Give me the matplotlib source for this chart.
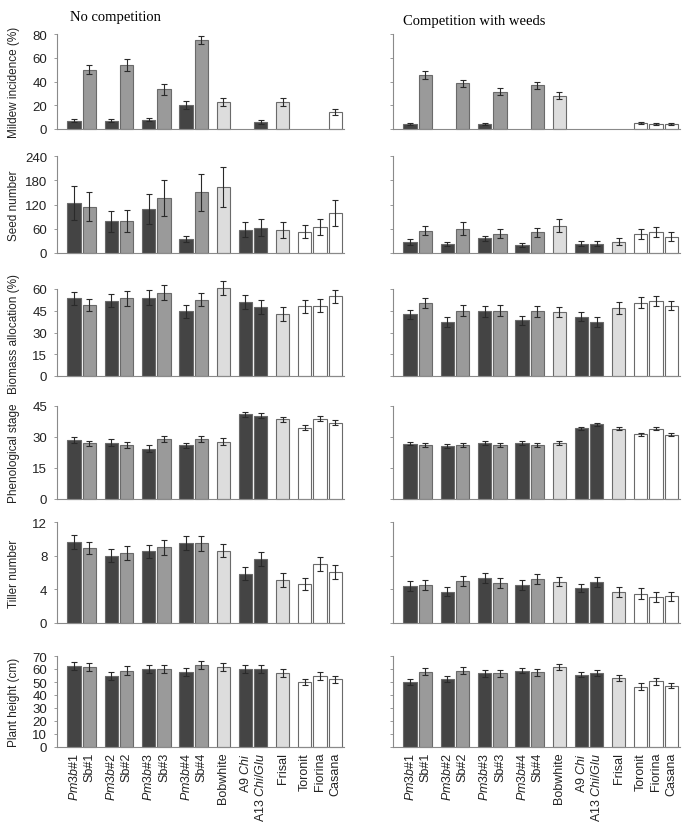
import matplotlib
matplotlib.use('Agg')
import matplotlib.pyplot as plt
import numpy as np

plt.rcParams['font.family'] = ['Liberation Sans', 'DejaVu Sans']
plt.rcParams['mathtext.fontset'] = 'custom'
plt.rcParams['mathtext.rm'] = 'Liberation Sans'
plt.rcParams['mathtext.it'] = 'Liberation Sans:italic'

# lines / cultivars
labels = [r'$\mathit{Pm3b}$#1', 'Sb#1', r'$\mathit{Pm3b}$#2', 'Sb#2',
          r'$\mathit{Pm3b}$#3', 'Sb#3', r'$\mathit{Pm3b}$#4', 'Sb#4',
          'Bobwhite', r'A9 $\mathit{Chi}$', r'A13 $\mathit{Chi/Glu}$',
          'Frisal', 'Toronit', 'Fiorina', 'Casana']
groups = [0, 0, 1, 1, 2, 2, 3, 3, 4, 5, 5, 6, 7, 7, 7]
kinds = ['pm3b', 'sb', 'pm3b', 'sb', 'pm3b', 'sb', 'pm3b', 'sb',
         'bob', 'pm3b', 'pm3b', 'bob', 'white', 'white', 'white']

# mildew incidence (%), None = not shown
mildew_nc = [7, 50, 7, 54, 8, 33.5, 20, 75, 23, None, 6, 23, None, None, 14]
mildew_nc_err = [1.5, 4, 1.5, 5, 1.5, 4.5, 3.5, 3.5, 3.5, 0, 1.5, 3.5, 0, 0, 2.5]
mildew_c = [4, 45.5, None, 38.5, 4, 31.5, None, 37, 28, None, None, None, 5, 4, 4]
mildew_c_err = [0.8, 3, 0, 3, 0.8, 3, 0, 3, 3, 0, 0, 0, 1, 0.8, 0.8]

# seed number
seed_nc = [124, 114, 78, 80, 108, 136, 35, 150, 164, 58, 63, 56, 53, 64, 99]
seed_nc_err = [42, 36, 25, 27, 37, 44, 8, 45, 50, 18, 20, 20, 17, 19, 31]
seed_c = [28, 55, 22, 60, 36, 48, 20, 51, 68, 23, 23, 28, 47, 52, 40]
seed_c_err = [7, 11, 5, 16, 7, 11, 4, 12, 15, 6, 6, 8, 12, 13, 11]

# biomass allocation (%)
biomass_nc = [53.5, 49, 52, 53.5, 54, 57.5, 44.5, 52.5, 60.5, 51, 47.5, 43, 48, 48.5, 55]
biomass_nc_err = [4.7, 4.4, 4.5, 5, 5, 5, 4.6, 4.5, 4.7, 4.6, 4.6, 4.8, 4.4, 4.6, 4.5]
biomass_c = [42.5, 50.5, 37.5, 45, 44.5, 45, 38.5, 44.5, 44, 41, 37, 47, 50.5, 52, 48.5]
biomass_c_err = [3, 3.5, 3.4, 3.7, 3.5, 3.7, 3.2, 3.6, 3.4, 3.2, 3.4, 3.9, 3.7, 3.5, 3.3]

# phenological stage
pheno_nc = [28.5, 27, 27.3, 26, 24.3, 29, 26, 29, 27.8, 41, 40.2, 38.5, 34.5, 38.8, 37]
pheno_nc_err = [1.5, 1.3, 1.6, 1.5, 1.6, 1.5, 1.3, 1.5, 1.5, 1.2, 1.2, 1.2, 1.3, 1.2, 1.2]
pheno_c = [26.8, 26.3, 25.5, 26, 27, 26, 27, 26.3, 27.2, 34.2, 36.2, 34, 31.3, 34, 31.2]
pheno_c_err = [0.9, 0.9, 0.9, 0.9, 0.9, 0.9, 0.9, 0.9, 0.9, 0.8, 0.8, 0.8, 0.8, 0.8, 0.8]

# tiller number
tiller_nc = [9.6, 8.9, 8.0, 8.3, 8.5, 9.0, 9.5, 9.45, 8.6, 5.85, 7.6, 5.15, 4.65, 7.0, 6.05]
tiller_nc_err = [0.85, 0.75, 0.8, 0.8, 0.8, 0.9, 0.8, 0.85, 0.8, 0.8, 0.8, 0.85, 0.75, 0.8, 0.8]
tiller_c = [4.4, 4.5, 3.7, 4.95, 5.3, 4.75, 4.55, 5.2, 4.9, 4.15, 4.85, 3.7, 3.5, 3.05, 3.15]
tiller_c_err = [0.55, 0.55, 0.55, 0.6, 0.6, 0.6, 0.6, 0.6, 0.55, 0.5, 0.6, 0.6, 0.6, 0.6, 0.55]

# plant height (cm)
height_nc = [62.5, 61.3, 54.5, 58.8, 60, 60, 58, 63, 61.3, 59.8, 59.8, 57, 50, 54.5, 52]
height_nc_err = [3, 3, 2.9, 3.4, 3, 3, 3, 3, 3, 3, 3, 3, 2.4, 2.9, 3]
height_c = [50, 58, 52.5, 58.8, 56.7, 56.7, 58.8, 57.4, 61.3, 55.7, 56.9, 52.8, 46.5, 50.4, 47.2]
height_c_err = [2.4, 2.4, 2.4, 2.4, 2.6, 2.6, 2.2, 2.6, 2.4, 2, 2.2, 2.4, 2.4, 2.4, 2]

traits = [
    ('Mildew incidence (%)', 80, 20, mildew_nc, mildew_nc_err, mildew_c, mildew_c_err),
    ('Seed number', 240, 60, seed_nc, seed_nc_err, seed_c, seed_c_err),
    ('Biomass allocation (%)', 60, 15, biomass_nc, biomass_nc_err, biomass_c, biomass_c_err),
    ('Phenological stage', 45, 15, pheno_nc, pheno_nc_err, pheno_c, pheno_c_err),
    ('Tiller number', 12, 4, tiller_nc, tiller_nc_err, tiller_c, tiller_c_err),
    ('Plant height (cm)', 70, 10, height_nc, height_nc_err, height_c, height_c_err),
]

colors = {'pm3b': '#444444', 'sb': '#9a9a9a', 'bob': '#dddddd', 'white': '#ffffff'}
pos = np.arange(len(labels)) + 0.45 * np.array(groups)

W, H = 690, 828
fig = plt.figure(figsize=(W / 100, H / 100), dpi=100)

# pixel rows (top, bottom) of each panel
rows = [(35, 130), (157, 254), (290, 377), (407, 500), (523, 624), (657, 748)]
cols = [(57, 344), (393, 680)]


def draw(ax, vals, errs, ymax, step, show_labels):
    for i, (v, e) in enumerate(zip(vals, errs)):
        if v is None:
            continue
        ax.bar(pos[i], v, width=0.87, color=colors[kinds[i]], edgecolor='#6a6a6a',
               linewidth=0.8, zorder=2, clip_on=False)
        ax.errorbar(pos[i], v, yerr=e, fmt='none', ecolor='#2a2a2a', elinewidth=0.8,
                    capsize=2, capthick=0.8, zorder=3, clip_on=False)
    ax.set_xlim(-1.12, pos[-1] + 0.57)
    ax.set_ylim(0, ymax)
    ax.set_yticks(np.arange(0, ymax + 0.1, step))
    for s in ['top', 'right']:
        ax.spines[s].set_visible(False)
    for s in ['left', 'bottom']:
        ax.spines[s].set_color('#8a8a8a')
        ax.spines[s].set_linewidth(0.8)
    ax.tick_params(axis='y', direction='out', length=2, width=0.6, color='#8a8a8a',
                   labelsize=9.5, pad=5, labelcolor='#222222')
    ax.tick_params(axis='x', length=0)
    if show_labels:
        ax.set_xticks(pos)
        ax.set_xticklabels(labels, rotation=90, fontsize=9, color='#222222')
    else:
        ax.set_xticks([])


for r, (name, ymax, step, nc, nce, c, ce) in enumerate(traits):
    top, bot = rows[r]
    for k, (x0, x1) in enumerate(cols):
        ax = fig.add_axes([x0 / W, 1 - bot / H, (x1 - x0) / W, (bot - top) / H])
        last = r == len(traits) - 1
        if k == 0:
            draw(ax, nc, nce, ymax, step, last)
            ax.set_ylabel(name, fontsize=8.5, color='#222222')
            ax.yaxis.set_label_coords(-0.13, 0.5)
        else:
            draw(ax, c, ce, ymax, step, last)
            ax.set_yticklabels([])

fig.text(70 / W, 1 - 18 / H, 'No competition', family='Liberation Serif',
         fontsize=10.5, ha='left', va='center')
fig.text(403 / W, 1 - 22 / H, 'Competition with weeds', family='Liberation Serif',
         fontsize=10.5, ha='left', va='center')

fig.savefig('out.png', dpi=100)
